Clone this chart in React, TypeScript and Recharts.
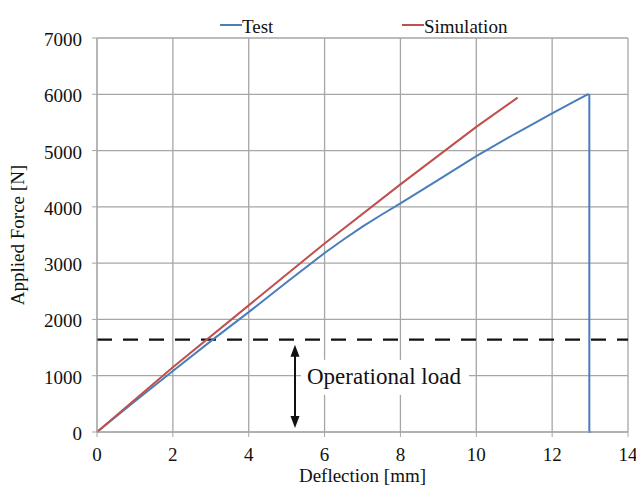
import { CartesianGrid, Label, Legend, Line, LineChart, ReferenceLine, XAxis, YAxis } from 'recharts'

const testDeflection = [0, 1, 2, 3, 4, 5, 6, 6.5, 7, 7.5, 8, 9, 10, 11, 12, 12.6, 12.94, 12.98, 12.98, 13.03]
const testForce = [0, 545, 1085, 1615, 2130, 2660, 3180, 3420, 3650, 3860, 4060, 4480, 4900, 5290, 5660, 5880, 6000, 5990, 0, 0]

const simDeflection = [0, 2, 4, 6, 8, 10, 11.09]
const simForce = [0, 1150, 2250, 3350, 4400, 5420, 5940]

const xTicks = [0, 2, 4, 6, 8, 10, 12, 14]
const yTicks = [0, 1000, 2000, 3000, 4000, 5000, 6000, 7000]

const operationalLoad = 1640
const arrowAt = 5.22

const testData = testDeflection.map((x, i) => ({ x, test: testForce[i] }))
const simData = simDeflection.map((x, i) => ({ x, sim: simForce[i] }))

const FONT = "'Liberation Serif', 'Times New Roman', serif"
const BLUE = '#4a7ebb'
const RED = '#c0504d'
const GRID = '#a6a6a6'

const legendItems = [
  { name: 'Test', color: BLUE, left: 220 },
  { name: 'Simulation', color: RED, left: 402 },
]

const renderLegend = () => (
  <div style={{ position: 'relative', height: 28, fontFamily: FONT, fontSize: 19, color: '#111', lineHeight: '22px' }}>
    {legendItems.map((it) => (
      <div key={it.name} style={{ position: 'absolute', left: it.left, top: 6, display: 'flex', alignItems: 'flex-start', whiteSpace: 'nowrap' }}>
        <span style={{ display: 'inline-block', width: 22, height: 2, marginTop: 8, background: it.color }} />
        <span>{it.name}</span>
      </div>
    ))}
  </div>
)

const XTick = ({ x, y, payload }: any) => (
  <text x={x} y={y + 22} textAnchor="middle" fontFamily={FONT} fontSize={19} fill="#111">
    {payload.value}
  </text>
)

const YTick = ({ x, y, payload }: any) => (
  <text x={x - 8} y={y + 8} textAnchor="end" fontFamily={FONT} fontSize={19} fill="#111">
    {payload.value}
  </text>
)

// double arrow for the operational load
const ArrowShape = (props: any) => {
  const { x1, y1, y2 } = props
  const top = Math.min(y1, y2) + 5
  const bottom = Math.max(y1, y2) - 4
  return (
    <g>
      <line x1={x1} y1={top + 8} x2={x1} y2={bottom - 8} stroke="#111" strokeWidth={2} />
      <polygon points={`${x1},${top} ${x1 - 4.5},${top + 12} ${x1 + 4.5},${top + 12}`} fill="#111" />
      <polygon points={`${x1},${bottom} ${x1 - 4.5},${bottom - 12} ${x1 + 4.5},${bottom - 12}`} fill="#111" />
    </g>
  )
}

export default function App() {
  return (
    <div className="chart-root" style={{ position: 'absolute', left: 0, top: 0, background: '#fff', fontFamily: FONT }}>
      <style>{`.chart-root text, .chart-root tspan { font-family: 'Liberation Serif', 'Times New Roman', serif !important; }`}</style>
      <LineChart width={636} height={490} margin={{ top: 10, right: 8, bottom: 0, left: 0 }}>
        <Legend verticalAlign="top" content={renderLegend} />
        <CartesianGrid stroke={GRID} strokeWidth={1.3} />
        <XAxis
          type="number"
          dataKey="x"
          domain={[0, 14]}
          ticks={xTicks}
          allowDuplicatedCategory={false}
          height={58}
          stroke={GRID}
          tickLine={{ stroke: GRID }}
          tickSize={5}
          tick={XTick}
        >
          <Label
            content={({ viewBox }: any) => (
              <text x={viewBox.x + viewBox.width / 2} y={viewBox.y + 50} textAnchor="middle" fontFamily={FONT} fontSize={19} fill="#111">
                Deflection [mm]
              </text>
            )}
          />
        </XAxis>
        <YAxis
          type="number"
          domain={[0, 7000]}
          ticks={yTicks}
          width={97}
          stroke={GRID}
          tickLine={{ stroke: GRID }}
          tickSize={5}
          tick={YTick}
        >
          <Label
            content={({ viewBox }: any) => {
              const cx = viewBox.x + 24
              const cy = viewBox.y + viewBox.height / 2
              return (
                <text x={cx} y={cy} transform={`rotate(-90 ${cx} ${cy})`} textAnchor="middle" fontFamily={FONT} fontSize={19} fill="#111">
                  Applied Force [N]
                </text>
              )
            }}
          />
        </YAxis>
        <ReferenceLine y={operationalLoad} stroke="#111" strokeWidth={2.2} strokeDasharray="15 11" />
        <ReferenceLine
          segment={[{ x: arrowAt, y: 0 }, { x: arrowAt, y: operationalLoad }]}
          shape={ArrowShape}
        >
          <Label
            content={({ viewBox }: any) => {
              const x = viewBox.x + 12
              const y = viewBox.y + viewBox.height / 2
              return (
                <g>
                  <rect x={x - 6} y={y - 26} width={168} height={35} fill="#fff" />
                  <text x={x} y={y - 2} fontFamily={FONT} fontSize={23} fill="#111">
                    Operational load
                  </text>
                </g>
              )
            }}
          />
        </ReferenceLine>
        <Line data={testData} dataKey="test" name="Test" type="linear" stroke={BLUE} strokeWidth={2} dot={false} isAnimationActive={false} />
        <Line data={simData} dataKey="sim" name="Simulation" type="linear" stroke={RED} strokeWidth={2} dot={false} isAnimationActive={false} />
      </LineChart>
    </div>
  )
}
